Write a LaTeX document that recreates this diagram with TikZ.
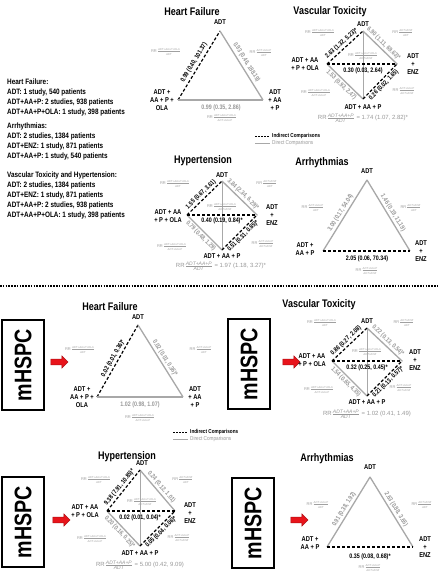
\documentclass[tikz,border=0pt]{standalone}
\usepackage{fontspec}
\usepackage{amsmath}
\setmainfont{Liberation Sans}
\newfontfamily\nar[FakeStretch=0.82]{Liberation Sans}
\usetikzlibrary{shapes.arrows}
\definecolor{dgray}{HTML}{A8A8A8}
\definecolor{tgray}{HTML}{999999}
\definecolor{lgray}{HTML}{A0A0A0}
\definecolor{arrred}{HTML}{E8141B}
\newcommand{\rrf}[2]{RR$\frac{\text{\itshape #1}}{\text{\itshape #2}}$}
\begin{document}
\begin{tikzpicture}[x=1pt,y=-1pt,
  dirl/.style={draw=dgray, line width=1.3pt},
  dirthin/.style={draw=dgray, line width=0.8pt},
  ind/.style={draw=black, line width=1.2pt, dash pattern=on 3pt off 2pt},
  sepline/.style={draw=black, line width=1.6pt, dash pattern=on 1.6pt off 1.2pt},
  vlab/.style={font=\nar\bfseries\fontsize{7}{8}\selectfont, align=center, inner sep=0pt},
  ttl/.style={font=\nar\bfseries\fontsize{11}{12}\selectfont, inner sep=0pt},
  ival/.style={font=\nar\bfseries\fontsize{6.5}{7}\selectfont, inner sep=0pt},
  dval/.style={ival, text=tgray},
  sl/.style={sloped, inner sep=1.5pt},
  rrs/.style={text=lgray, inner sep=0pt, font=\fontsize{4}{5}\selectfont},
  rrb/.style={text=tgray, inner sep=0pt, font=\fontsize{6}{7}\selectfont},
  blk/.style={font=\nar\bfseries\fontsize{7.8}{10}\selectfont, align=left, inner sep=0pt, anchor=north west},
  lgi/.style={font=\nar\bfseries\fontsize{5.7}{6}\selectfont, inner sep=0pt, anchor=west},
  lgd/.style={font=\nar\fontsize{5.7}{6}\selectfont, text=tgray, inner sep=0pt, anchor=west},
  mbox/.style={draw=black, line width=1.4pt, fill=white, minimum width=90pt, minimum height=42pt, rotate=90, inner sep=0pt, font=\nar\bfseries\fontsize{24}{24}\selectfont},
  redarr/.style={single arrow, fill=arrred, draw=arrred!75!black, line width=0.5pt, inner sep=2.6pt, minimum height=17pt, single arrow head extend=3.2pt}
]
\useasboundingbox (0,0) rectangle (438,575);
\fill[white] (0,0) rectangle (438,575);

% ---------- info text ----------
\node[blk] (info1) at (7,79) {Heart Failure:\\ADT: 1 study, 540 patients\\ADT+AA+P: 2 studies, 938 patients\\ADT+AA+P+OLA: 1 study, 398 patients};
\node[blk] (info2) at (7,123) {Arrhythmias:\\ADT: 2 studies, 1384 patients\\ADT+ENZ: 1 study, 871 patients\\ADT+AA+P: 1 study, 540 patients};
\node[blk] (info3) at (7,172) {Vascular Toxicity and Hypertension:\\ADT: 2 studies, 1384 patients\\ADT+ENZ: 1 study, 871 patients\\ADT+AA+P: 2 studies, 938 patients\\ADT+AA+P+OLA: 1 study, 398 patients};

% ---------- top Heart Failure ----------
\node[ttl] (t1) at (192,12) {Heart Failure};
\coordinate (a1) at (220,31); \coordinate (l1) at (178,100); \coordinate (r1) at (263,100);
\draw[ind] (l1) -- node[ival, sl, above, inner sep=2.2pt] (e11) {0.99 (0.40, 101.37)} (a1);
\draw[dirl] (a1) -- node[dval, sl, above, inner sep=2.2pt] (e12) {0.93 (0.46, 188.19)} (r1);
\draw[dirl] (l1) -- (r1);
\node[vlab] (a1t) at (220,22) {ADT};
\node[vlab] (l1t) at (162,100) {ADT +\\AA + P +\\OLA};
\node[vlab] (r1t) at (275,100) {ADT\\+ AA\\+ P};
\node[dval] (e13) at (221,108) {0.99 (0.35, 2.86)};
\node[rrs] (q11) at (166,52) {\rrf{ADT+AA+P+OLA}{ADT}};
\node[rrs] (q12) at (261,53) {\rrf{ADT+AA+P}{ADT}};
\node[rrs] (q13) at (222,118) {\rrf{ADT+AA+P+OLA}{ADT+AA+P}};

% ---------- top Vascular Toxicity ----------
\node[ttl] (t2) at (330,12) {Vascular Toxicity};
\coordinate (T2) at (363,31); \coordinate (E2) at (397,64); \coordinate (B2) at (363,99); \coordinate (O2) at (327,64);
\draw[dirthin] (T2) -- (B2);
\draw[dirl] (T2) -- node[dval, sl, above] (e22) {6.90 (1.11, 69.63)*} (E2);
\draw[dirl] (O2) -- node[dval, sl, below] (e24) {1.53 (0.93, 2.47)} (B2);
\draw[ind] (O2) -- node[ival, sl, above] (e21) {2.63 (1.32, 5.23)*} (T2);
\draw[ind] (B2) -- node[ival, sl, below] (e23) {0.26 (0.02, 1.65)} (E2);
\draw[ind] (O2) -- (E2);
\node[vlab] (T2t) at (363,24) {ADT};
\node[vlab] (O2t) at (305,64) {ADT + AA\\+ P + OLA};
\node[vlab] (E2t) at (413,64) {ADT\\+\\ENZ};
\node[vlab] (B2t) at (363,107) {ADT + AA + P};
\node[ival] (e25) at (363,71) {0.30 (0.03, 2.64)};
\node[rrs] (q21) at (320,33) {\rrf{ADT+AA+P+OLA}{ADT}};
\node[rrs] (q22) at (403,33) {\rrf{ADT+ENZ}{ADT}};
\node[rrs] (q23) at (363,56) {\rrf{ADT+AA+P+OLA}{ADT+ENZ}};
\node[rrs] (q24) at (316,93) {\rrf{ADT+AA+P+OLA}{ADT+AA+P}};
\node[rrs] (q25) at (404,91) {\rrf{ADT+AA+P}{ADT+ENZ}};
\node[rrb] (q26) at (363,118) {\rrf{ADT+AA+P}{ADT} = 1.74 (1.07, 2.82)*};
% legend top
\coordinate (lg1a) at (255,136); \coordinate (lg1b) at (270,136);
\coordinate (lg2a) at (255,143); \coordinate (lg2b) at (270,143);
\draw[black, line width=0.9pt, dash pattern=on 2pt off 1pt] (lg1a) -- (lg1b);
\draw[dgray, line width=0.9pt] (lg2a) -- (lg2b);
\node[lgi] (lgt1) at (272,136) {Indirect Comparisons};
\node[lgd] (lgt2) at (272,143) {Direct Comparisons};

% ---------- top Hypertension ----------
\node[ttl] (t3) at (203,161) {Hypertension};
\coordinate (T3) at (222,181); \coordinate (E3) at (257,215); \coordinate (B3) at (222,250); \coordinate (O3) at (187,215);
\draw[dirthin] (T3) -- (B3);
\draw[dirl] (T3) -- node[dval, sl, above] (e32) {3.84 (2.34, 6.29)*} (E3);
\draw[dirl] (O3) -- node[dval, sl, below] (e34) {0.79 (0.48, 1.29)} (B3);
\draw[ind] (O3) -- node[ival, sl, above] (e31) {1.55 (0.67, 3.61)} (T3);
\draw[ind] (B3) -- node[ival, sl, below] (e33) {0.51 (0.31, 0.85)*} (E3);
\draw[ind] (O3) -- (E3);
\node[vlab] (T3t) at (222,175) {ADT};
\node[vlab] (O3t) at (168,216) {ADT + AA\\+ P + OLA};
\node[vlab] (E3t) at (272,215) {ADT\\+\\ENZ};
\node[vlab] (B3t) at (222,256) {ADT + AA + P};
\node[ival] (e35) at (222,221) {0.40 (0.19, 0.84)*};
\node[rrs] (q31) at (175,184) {\rrf{ADT+AA+P+OLA}{ADT}};
\node[rrs] (q32) at (267,184) {\rrf{ADT+ENZ}{ADT}};
\node[rrs] (q33) at (222,207) {\rrf{ADT+AA+P+OLA}{ADT+ENZ}};
\node[rrs] (q34) at (172,247) {\rrf{ADT+AA+P+OLA}{ADT+AA+P}};
\node[rrs] (q35) at (263,244) {\rrf{ADT+AA+P}{ADT+ENZ}};
\node[rrb] (q36) at (221,266) {\rrf{ADT+AA+P}{ADT} = 1.97 (1.18, 3.27)*};

% ---------- top Arrhythmias ----------
\node[ttl] (t4) at (322,163) {Arrhythmias};
\coordinate (a4) at (367,180); \coordinate (l4) at (323,251); \coordinate (r4) at (410,251);
\draw[dirl] (l4) -- node[dval, sl, above] (e41) {3.00 (0.17, 54.04)} (a4);
\draw[dirl] (a4) -- node[dval, sl, above] (e42) {1.46 (0.19, 11.19)} (r4);
\draw[ind] (l4) -- (r4);
\node[vlab] (a4t) at (367,171) {ADT};
\node[vlab] (l4t) at (305,249) {ADT +\\AA + P};
\node[vlab] (r4t) at (421,251) {ADT\\+\\ENZ};
\node[ival] (e43) at (367,259) {2.05 (0.06, 70.34)};
\node[rrs] (q41) at (313,208) {\rrf{ADT+AA+P}{ADT}};
\node[rrs] (q42) at (411,208) {\rrf{ADT+ENZ}{ADT}};
\node[rrs] (q43) at (367,271) {\rrf{ADT+AA+P}{ADT+ENZ}};

% ---------- separator ----------
\coordinate (sepL) at (0,286); \coordinate (sepR) at (438,286);
\draw[sepline] (sepL) -- (sepR);

% ---------- bottom Heart Failure ----------
\node[mbox] (m1) at (23,365) {mHSPC};
\node[redarr] (ar1) at (58,362) {};
\node[ttl] (t5) at (110,307) {Heart Failure};
\coordinate (a5) at (138,325); \coordinate (l5) at (97,397); \coordinate (r5) at (183,397);
\draw[ind] (l5) -- node[ival, sl, above] (e51) {0.02 (0.01, 0.36)*} (a5);
\draw[dirl] (a5) -- node[dval, sl, above] (e52) {0.02 (0.01, 0.36)*} (r5);
\draw[dirl] (l5) -- (r5);
\node[vlab] (a5t) at (138,317) {ADT};
\node[vlab] (l5t) at (82,397) {ADT +\\AA + P +\\OLA};
\node[vlab] (r5t) at (195,397) {ADT\\+ AA\\+ P};
\node[dval] (e53) at (140,405) {1.02 (0.98, 1.07)};
\node[rrs] (q51) at (80,350) {\rrf{ADT+AA+P+OLA}{ADT}};
\node[rrs] (q52) at (201,350) {\rrf{ADT+AA+P}{ADT}};
\node[rrs] (q53) at (140,418) {\rrf{ADT+AA+P+OLA}{ADT+AA+P}};
% legend bottom
\coordinate (lg3a) at (173,432); \coordinate (lg3b) at (188,432);
\coordinate (lg4a) at (173,439); \coordinate (lg4b) at (188,439);
\draw[black, line width=0.9pt, dash pattern=on 2pt off 1pt] (lg3a) -- (lg3b);
\draw[dgray, line width=0.9pt] (lg4a) -- (lg4b);
\node[lgi] (lgt3) at (190,432) {Indirect Comparisons};
\node[lgd] (lgt4) at (190,439) {Direct Comparisons};

% ---------- bottom Vascular Toxicity ----------
\node[mbox] (m2) at (249,364) {mHSPC};
\node[redarr] (ar2) at (290,362) {};
\node[ttl] (t6) at (319,305) {Vascular Toxicity};
\coordinate (T6) at (367,328); \coordinate (E6) at (402,361); \coordinate (B6) at (367,396); \coordinate (O6) at (332,361);
\draw[dirthin] (T6) -- (B6);
\draw[dirl] (T6) -- node[dval, sl, above] (e62) {0.22 (0.13, 0.54)*} (E6);
\draw[dirl] (O6) -- node[dval, sl, below] (e64) {1.54 (0.65, 4.35)} (B6);
\draw[ind] (O6) -- node[ival, sl, above] (e61) {0.86 (0.27, 2.08)} (T6);
\draw[ind] (B6) -- node[ival, sl, below] (e63) {0.21 (0.13, 0.57)*} (E6);
\draw[ind] (O6) -- (E6);
\node[vlab] (T6t) at (367,321) {ADT};
\node[vlab] (O6t) at (312,360) {ADT + AA\\+ P + OLA};
\node[vlab] (E6t) at (415,360) {ADT\\+\\ENZ};
\node[vlab] (B6t) at (367,402) {ADT + AA + P};
\node[ival] (e65) at (367,368) {0.32 (0.25, 0.45)*};
\node[rrs] (q61) at (322,323) {\rrf{ADT+AA+P+OLA}{ADT}};
\node[rrs] (q62) at (404,323) {\rrf{ADT+ENZ}{ADT}};
\node[rrs] (q63) at (367,352) {\rrf{ADT+AA+P+OLA}{ADT+ENZ}};
\node[rrs] (q64) at (319,390) {\rrf{ADT+AA+P+OLA}{ADT+AA+P}};
\node[rrs] (q65) at (401,388) {\rrf{ADT+AA+P}{ADT+ENZ}};
\node[rrb] (q66) at (367,414) {\rrf{ADT+AA+P}{ADT} = 1.02 (0.41, 1.49)};

% ---------- bottom Hypertension ----------
\node[mbox] (m3) at (23,522) {mHSPC};
\node[redarr] (ar3) at (60,520) {};
\node[ttl] (t7) at (127,457) {Hypertension};
\coordinate (T7) at (140,470); \coordinate (E7) at (175,511); \coordinate (B7) at (140,546); \coordinate (O7) at (107,511);
\draw[dirthin] (T7) -- (B7);
\draw[dirl] (T7) -- node[dval, sl, above] (e72) {0.24 (0.12, 1.01)} (E7);
\draw[dirl] (O7) -- node[dval, sl, below] (e74) {0.20 (0.16, 0.25)*} (B7);
\draw[ind] (O7) -- node[ival, sl, above] (e71) {9.38 (7.91, 10.85)*} (T7);
\draw[ind] (B7) -- node[ival, sl, below] (e73) {0.05 (0.04, 0.06)*} (E7);
\draw[ind] (O7) -- (E7);
\node[vlab] (T7t) at (142,463) {ADT};
\node[vlab] (O7t) at (85,511) {ADT + AA\\+ P + OLA};
\node[vlab] (E7t) at (190,513) {ADT\\+\\ENZ};
\node[vlab] (B7t) at (140,553) {ADT + AA + P};
\node[ival] (e75) at (140,518) {0.02 (0.01, 0.04)*};
\node[rrs] (q71) at (96,480) {\rrf{ADT+AA+P+OLA}{ADT}};
\node[rrs] (q72) at (183,480) {\rrf{ADT+ENZ}{ADT}};
\node[rrs] (q73) at (142,502) {\rrf{ADT+AA+P+OLA}{ADT+ENZ}};
\node[rrs] (q74) at (92,539) {\rrf{ADT+AA+P+OLA}{ADT+AA+P}};
\node[rrs] (q75) at (179,538) {\rrf{ADT+AA+P}{ADT+ENZ}};
\node[rrb] (q76) at (140,565) {\rrf{ADT+AA+P}{ADT} = 5.00 (0.42, 9.09)};

% ---------- bottom Arrhythmias ----------
\node[mbox] (m4) at (253,523) {mHSPC};
\node[redarr] (ar4) at (298,520) {};
\node[ttl] (t8) at (327,459) {Arrhythmias};
\coordinate (a8) at (370,477); \coordinate (l8) at (327,547); \coordinate (r8) at (413,547);
\draw[dirl] (l8) -- node[dval, sl, above] (e81) {0.91 (0.38, 1.92)} (a8);
\draw[dirl] (a8) -- node[dval, sl, above] (e82) {2.63 (0.88, 3.65)} (r8);
\draw[ind] (l8) -- (r8);
\node[vlab] (a8t) at (370,467) {ADT};
\node[vlab] (l8t) at (310,543) {ADT +\\AA + P};
\node[vlab] (r8t) at (425,547) {ADT\\+\\ENZ};
\node[ival] (e83) at (370,557) {0.35 (0.08, 0.68)*};
\node[rrs] (q81) at (318,505) {\rrf{ADT+AA+P}{ADT}};
\node[rrs] (q82) at (422,505) {\rrf{ADT+ENZ}{ADT}};
\node[rrs] (q83) at (370,568) {\rrf{ADT+AA+P}{ADT+ENZ}};
\end{tikzpicture}
\end{document}
